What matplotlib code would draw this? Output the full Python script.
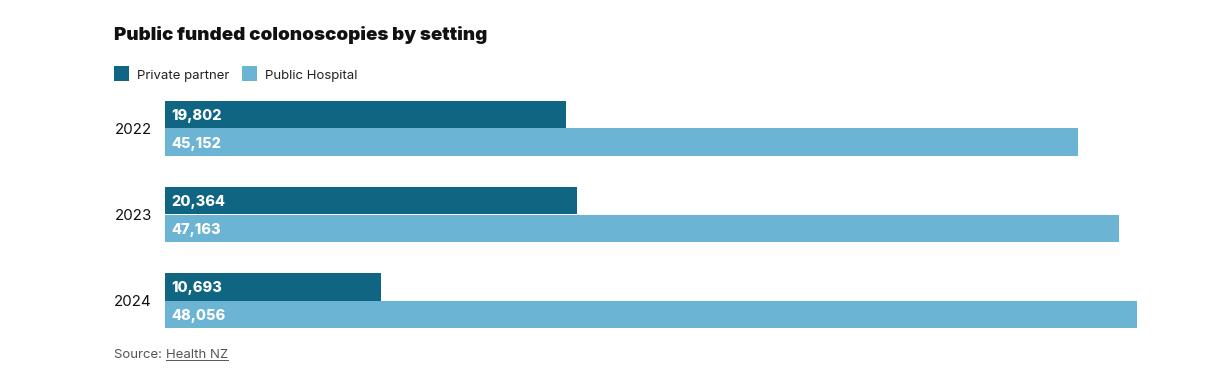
import matplotlib
matplotlib.use("Agg")
import matplotlib.pyplot as plt
from matplotlib.patches import Rectangle
import numpy as np

years = ["2022", "2023", "2024"]
private_partner = [19802, 20364, 10693]
public_hospital = [45152, 47163, 48056]
series_names = ["Private partner", "Public Hospital"]
title = "Public funded colonoscopies by setting"

DARK = "#106682"
LIGHT = "#6cb4d4"

plt.rcParams['font.family'] = ['Inter', 'DejaVu Sans']

W, H = 1225, 388
fig = plt.figure(figsize=(W / 100, H / 100), dpi=100)

def fx(px):
    return px / W

def fy(py):
    return 1 - py / H

h = 27.3 / 86.0
left, right = 165, 1137
top, bottom = 101, 328
ax = fig.add_axes([fx(left), fy(bottom), fx(right) - fx(left), fy(top) - fy(bottom)])
ypos = np.arange(len(years))
ax.barh(ypos - h / 2, private_partner, height=h, color=DARK, linewidth=0)
ax.barh(ypos + h / 2, public_hospital, height=h, color=LIGHT, linewidth=0)
ax.set_xlim(0, max(public_hospital))
ax.set_ylim(len(years) - 1 + h, -h)
ax.axis("off")

pad = 6 / (right - left) * max(public_hospital)
for i in range(len(years)):
    ax.text(pad, i - h / 2, f"{private_partner[i]:,}", color="white", fontweight=800,
            fontsize=10.5, va="center_baseline", ha="left")
    ax.text(pad, i + h / 2, f"{public_hospital[i]:,}", color="white", fontweight=800,
            fontsize=10.5, va="center_baseline", ha="left")
    ax.text(-13 / (right - left) * max(public_hospital), i, years[i], color="#111111",
            fontsize=10.8, va="center_baseline", ha="right", clip_on=False)

fig.text(fx(114), fy(33.5), title, fontsize=13.5, fontweight=900, va="center_baseline", ha="left", color="#111111")

# legend
for (sx, tx, name, col) in [(114, 137, series_names[0], DARK), (242, 265, series_names[1], LIGHT)]:
    fig.patches.append(Rectangle((fx(sx), fy(81)), fx(15), 15 / H, transform=fig.transFigure,
                                 color=col, linewidth=0))
    fig.text(fx(tx), fy(74), name, fontsize=9.5, va="center_baseline", ha="left", color="#222222")

t1 = fig.text(fx(114), fy(353.5), "Source: ", fontsize=9.5, va="center_baseline", ha="left", color="#555555")
fig.canvas.draw()
bb = t1.get_window_extent()
t2 = fig.text(bb.x1 / W, fy(353.5), "Health NZ", fontsize=9.5, va="center_baseline", ha="left", color="#555555")
r = fig.canvas.get_renderer()
bb2 = t2.get_window_extent(renderer=r)
fig.add_artist(plt.Line2D([bb2.x0 / W, bb2.x1 / W], [fy(359.5), fy(359.5)], transform=fig.transFigure,
                          color="#555555", linewidth=0.7))

fig.savefig("out.png", dpi=100)
